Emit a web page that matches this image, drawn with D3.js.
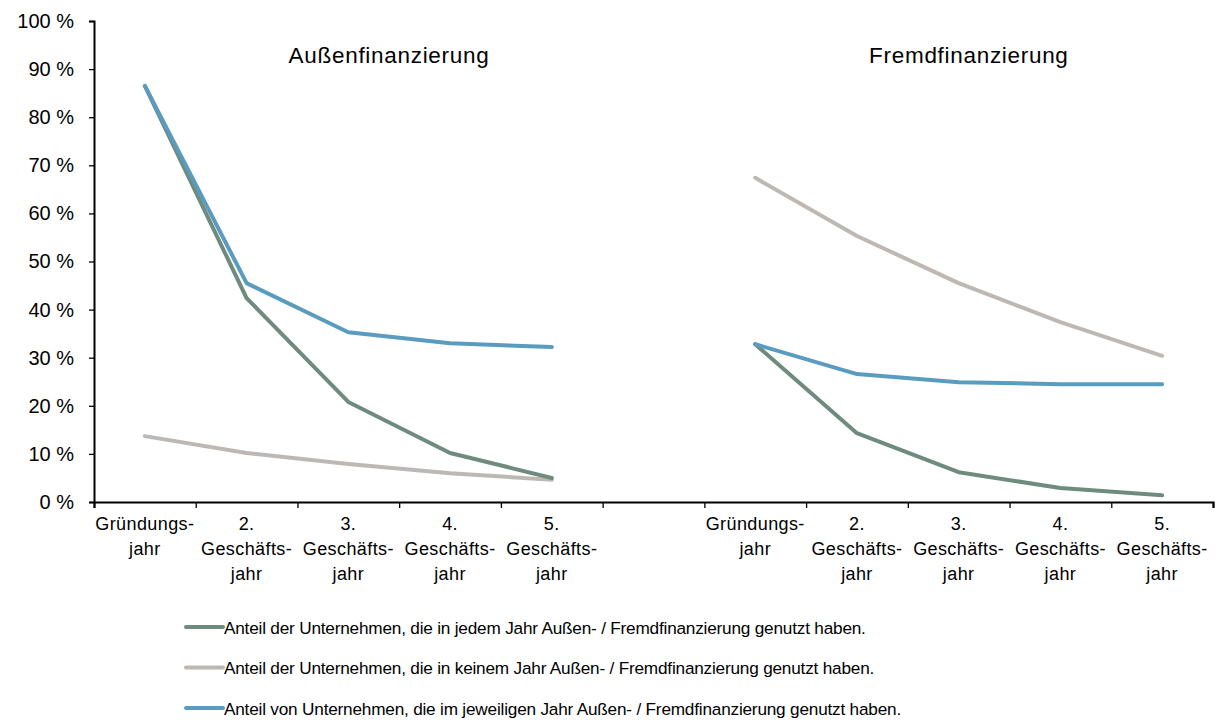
<!DOCTYPE html>
<html>
<head>
<meta charset="utf-8">
<script src="https://cdn.jsdelivr.net/npm/d3@7"></script>
<style>
  body { margin: 0; background: #fff; }
  svg { font-family: "Liberation Sans", Arial, sans-serif; }
</style>
</head>
<body>
<div id="chart"></div>
<script>
// data
var years = ["Gründungs-|jahr", "2.|Geschäfts-|jahr", "3.|Geschäfts-|jahr", "4.|Geschäfts-|jahr", "5.|Geschäfts-|jahr"];
var panels = ["Außenfinanzierung", "Fremdfinanzierung"];
var seriesNames = [
  "Anteil der Unternehmen, die in jedem Jahr Außen- / Fremdfinanzierung genutzt haben.",
  "Anteil der Unternehmen, die in keinem Jahr Außen- / Fremdfinanzierung genutzt haben.",
  "Anteil von Unternehmen, die im jeweiligen Jahr Außen- / Fremdfinanzierung genutzt haben."
];
var colors = ["#6f8b7e", "#bdb8b4", "#5a9bc0"];
// values per panel
var jedemAussen = [86.5, 42.4, 20.8, 10.2, 5.0];
var keinemAussen = [13.7, 10.2, 7.9, 6.0, 4.6];
var jeweiligAussen = [86.5, 45.5, 35.3, 33.0, 32.2];
var jedemFremd = [32.8, 14.3, 6.2, 2.9, 1.4];
var keinemFremd = [67.4, 55.3, 45.5, 37.4, 30.4];
var jeweiligFremd = [32.8, 26.6, 24.9, 24.5, 24.5];
var yTicks = [0, 10, 20, 30, 40, 50, 60, 70, 80, 90, 100];

var width = 1219, height = 727;
var margin = {top: 21, left: 94, right: 6, bottom: 225};
var slots = years.length * 2 + 1;
var titleSlot = [2.9, 8.6];

var svg = d3.select("#chart").append("svg")
  .attr("width", width).attr("height", height);

var x = d3.scaleLinear().domain([0, slots]).range([margin.left, width - margin.right]);
var y = d3.scaleLinear().domain([0, 100]).range([height - margin.bottom, margin.top]);

// y axis
var yAxis = d3.axisLeft(y).tickValues(yTicks).tickSize(5).tickPadding(15)
  .tickFormat(function(d){ return d + " %"; });
var gy = svg.append("g").attr("transform", "translate(" + margin.left + ",0)").call(yAxis);
gy.select(".domain").attr("stroke", "#000").attr("stroke-width", 2);
gy.selectAll(".tick line").attr("stroke", "#000").attr("stroke-width", 1.3);
gy.selectAll("text").attr("font-size", 20).attr("fill", "#000");

// x axis
var xAxis = d3.axisBottom(x).tickValues(d3.range(0, slots + 1)).tickSize(6).tickFormat("");
var gx = svg.append("g").attr("transform", "translate(0," + y(0) + ")").call(xAxis);
gx.select(".domain").attr("stroke", "#000").attr("stroke-width", 2.2);
gx.selectAll(".tick line").attr("stroke", "#000").attr("stroke-width", 1.3);

var panelData = [
  [jedemAussen, keinemAussen, jeweiligAussen],
  [jedemFremd, keinemFremd, jeweiligFremd]
];

var line = d3.line()
  .x(function(d){ return x(d.i + 0.5); })
  .y(function(d){ return y(d.v); });

panelData.forEach(function(series, p) {
  var offset = p * (years.length + 1);
  // category labels
  years.forEach(function(lbl, i) {
    var t = svg.append("text")
      .attr("x", x(offset + i + 0.5))
      .attr("y", 530)
      .attr("text-anchor", "middle")
      .attr("font-size", 18)
      .attr("letter-spacing", 0.4)
      .attr("fill", "#000");
    lbl.split("|").forEach(function(part, k) {
      t.append("tspan").attr("x", x(offset + i + 0.5)).attr("dy", k === 0 ? 0 : 25).text(part);
    });
  });
  // panel title
  svg.append("text")
    .attr("x", x(titleSlot[p]))
    .attr("y", 63)
    .attr("text-anchor", "middle")
    .attr("font-size", 22.5)
    .attr("letter-spacing", 0.7)
    .attr("fill", "#000")
    .text(panels[p]);
  // lines, draw order: gray, green, blue on top
  [1, 0, 2].forEach(function(s) {
    var pts = series[s].map(function(v, i){ return {i: offset + i, v: v}; });
    svg.append("path")
      .datum(pts)
      .attr("d", line)
      .attr("fill", "none")
      .attr("stroke", colors[s])
      .attr("stroke-width", 4)
      .attr("stroke-linejoin", "round")
      .attr("stroke-linecap", "round");
  });
});

// legend
var legend = svg.append("g");
seriesNames.forEach(function(name, s) {
  var ly = 627 + s * 40.5;
  legend.append("line")
    .attr("x1", 186).attr("x2", 223)
    .attr("y1", ly).attr("y2", ly)
    .attr("stroke", colors[s]).attr("stroke-width", 4).attr("stroke-linecap", "round");
  legend.append("text")
    .attr("x", 224).attr("y", ly + 6.5)
    .attr("font-size", 17.2)
    .attr("letter-spacing", -0.2)
    .attr("fill", "#000")
    .text(name);
});
</script>
</body>
</html>
